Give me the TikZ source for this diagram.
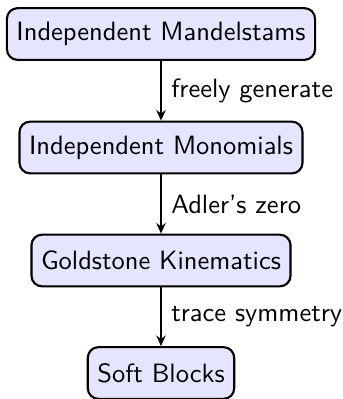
\documentclass[tikz,border=0pt]{standalone}
\usetikzlibrary{arrows.meta}
\begin{document}
\begin{tikzpicture}[x=0.3774pt,y=-0.3774pt,
  font=\sffamily,
  stage/.style={draw=black, line width=0.8pt, fill=blue!10, rounded corners=4pt,
    inner xsep=3.6pt, inner ysep=5pt, minimum height=19.5pt},
  link/.style={line width=0.6pt, -{Stealth[length=4pt,width=3.6pt]}},
  lab/.style={right, inner sep=3.6pt}]
\useasboundingbox (0,0) rectangle (343,399);
\node[stage] (a) at (161,34) {Independent Mandelstams};
\node[stage] (b) at (161,147.5) {Independent Monomials};
\node[stage] (c) at (161,260.5) {Goldstone Kinematics};
\node[stage] (d) at (161,373) {Soft Blocks};
\draw[link] (a) -- node[lab] {freely generate} (b);
\draw[link] (b) -- node[lab] {Adler's zero} (c);
\draw[link] (c) -- node[lab] {trace symmetry} (d);
\end{tikzpicture}
\end{document}
